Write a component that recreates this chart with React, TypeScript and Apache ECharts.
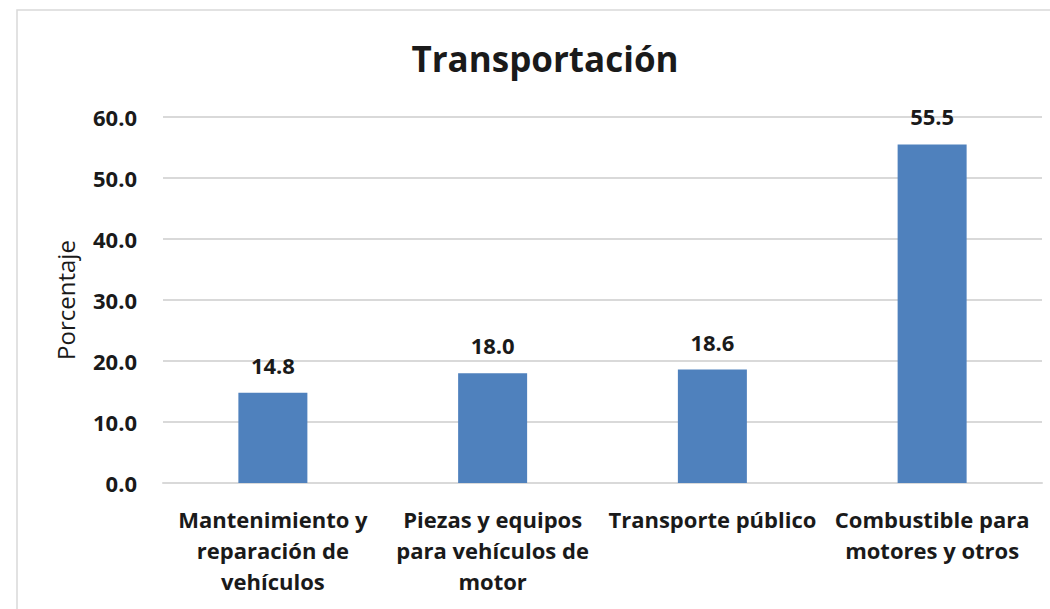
import React, { useEffect, useRef } from "react";
import * as echarts from "echarts";

const title = "Transportación";
const categories = [
  "Mantenimiento y\nreparación de\nvehículos",
  "Piezas y equipos\npara vehículos de\nmotor",
  "Transporte público",
  "Combustible para\nmotores y otros",
];
const values = [14.8, 18.0, 18.6, 55.5];
const yAxisName = "Porcentaje";

export default function App() {
  const ref = useRef<HTMLDivElement>(null);
  useEffect(() => {
    const chart = echarts.init(ref.current!, null, { renderer: "svg" });
    const font = "'Open Sans', sans-serif";
    chart.setOption({
      animation: false,
      backgroundColor: "#ffffff",
      textStyle: { fontFamily: font },
      title: {
        text: title,
        left: 540,
        textAlign: "center",
        top: 36,
        textStyle: { fontFamily: font, fontWeight: "bold", fontSize: 35, color: "#1a1a1a" },
      },
      graphic: [
        {
          type: "rect",
          shape: { x: 17, y: 10, width: 1100, height: 700 },
          style: { fill: "none", stroke: "#d9d9d9", lineWidth: 1.5 },
          silent: true,
        },
      ],
      grid: { left: 163, right: 8, top: 117, bottom: 126, containLabel: false },
      xAxis: {
        type: "category",
        data: categories,
        axisLine: { show: true, lineStyle: { color: "#d9d9d9", width: 2 } },
        axisTick: { show: false },
        axisLabel: {
          interval: 0,
          margin: 20,
          fontFamily: font,
          fontWeight: "bold",
          fontSize: 22,
          lineHeight: 31,
          color: "#1a1a1a",
        },
      },
      yAxis: {
        type: "value",
        min: 0,
        max: 60,
        interval: 10,
        name: yAxisName,
        nameLocation: "middle",
        nameGap: 86,
        nameTextStyle: { fontFamily: font, fontSize: 24, color: "#1a1a1a" },
        axisLine: { show: false },
        axisTick: { show: false },
        splitLine: { lineStyle: { color: "#d9d9d9", width: 2 } },
        axisLabel: {
          margin: 26,
          fontFamily: font,
          fontWeight: "bold",
          fontSize: 22,
          color: "#1a1a1a",
          formatter: (v: number) => v.toFixed(1),
        },
      },
      series: [
        {
          type: "bar",
          data: values,
          barWidth: 69,
          itemStyle: { color: "#4f81bd" },
          label: {
            show: true,
            position: "top",
            distance: 17,
            fontFamily: font,
            fontWeight: "bold",
            fontSize: 22,
            color: "#1a1a1a",
            formatter: (p: any) => Number(p.value).toFixed(1),
          },
        },
      ],
    });
    return () => chart.dispose();
  }, []);
  return (
    <div
      ref={ref}
      style={{ position: "fixed", left: 0, top: 0, width: 1050, height: 609 }}
    />
  );
}
